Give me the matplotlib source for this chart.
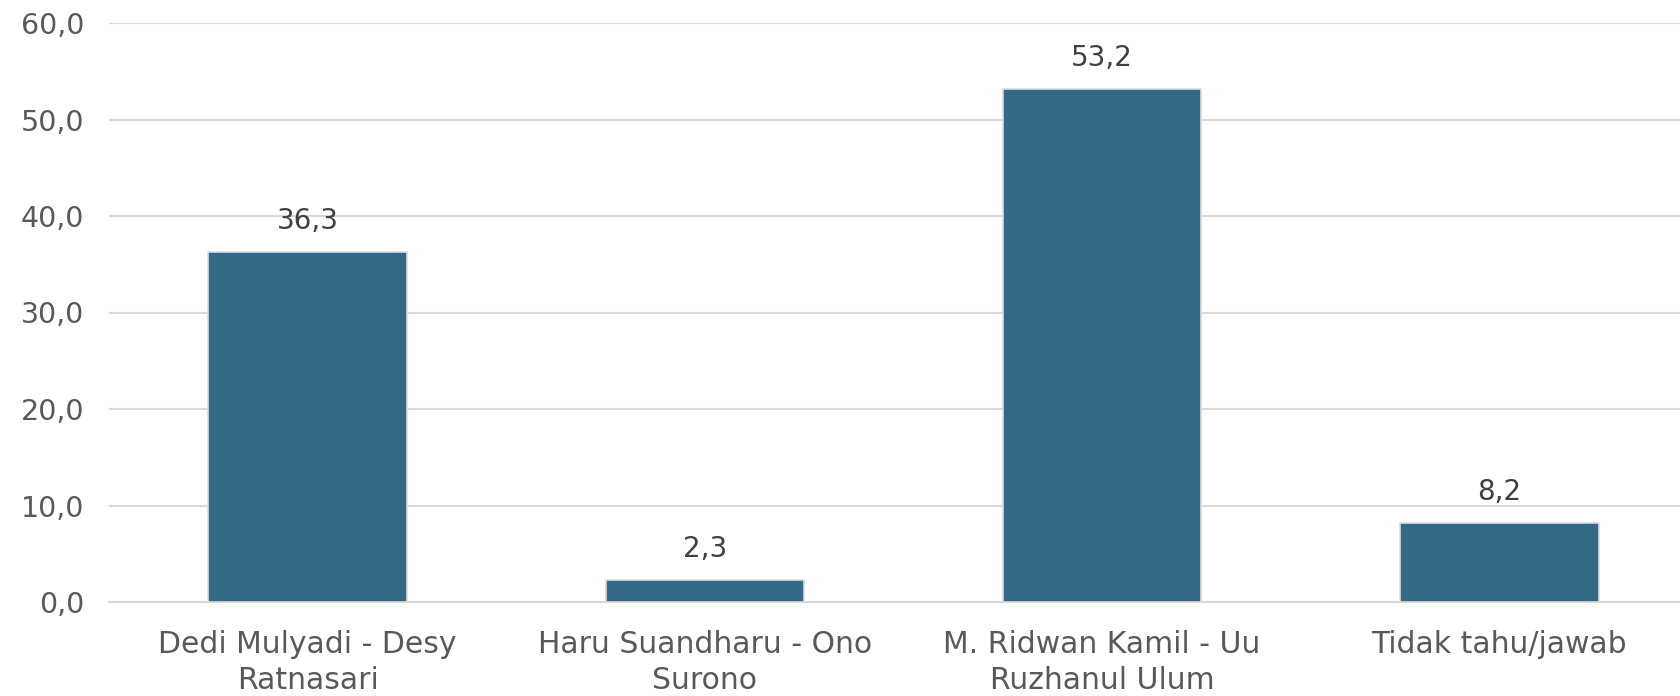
import matplotlib.pyplot as plt
from matplotlib.ticker import FuncFormatter

# data
categories = ["Dedi Mulyadi - Desy\nRatnasari", "Haru Suandharu - Ono\nSurono",
              "M. Ridwan Kamil - Uu\nRuzhanul Ulum", "Tidak tahu/jawab"]
values = [36.3, 2.3, 53.2, 8.2]
yticks = [0, 10, 20, 30, 40, 50, 60]

bar_color = "#336887"
text_color = "#595959"

plt.rcParams['font.family'] = ['DejaVu Sans']

fig = plt.figure(figsize=(16.8, 6.96), dpi=100)
# plot area runs a bit past the right edge, like the original
ax = fig.add_axes([109 / 1680, 94 / 696, 1589 / 1680, 579 / 696])

x = range(len(categories))
bars = ax.bar(x, values, width=0.5, color=bar_color, edgecolor="#dcdcdc",
              linewidth=1.2, zorder=3)

for i, v in enumerate(values):
    ax.annotate(f"{v:.1f}".replace(".", ","), (i, v), xytext=(0, 12),
                textcoords="offset points", ha="center", va="bottom",
                fontsize=20, color="#404040")

ax.set_xlim(-0.5, len(categories) - 0.5)
ax.set_ylim(0, 60)
ax.set_yticks(yticks)
ax.yaxis.set_major_formatter(FuncFormatter(lambda v, p: f"{v:.1f}".replace(".", ",")))
ax.set_xticks(list(x))
ax.set_xticklabels(categories, fontsize=21.5, color=text_color, linespacing=1.3)
ax.tick_params(axis="y", labelsize=20.5, labelcolor=text_color, length=0, pad=18)
ax.tick_params(axis="x", length=0, pad=20)

ax.grid(axis="y", color="#d9d9d9", linewidth=1.5, zorder=0)
for s in ["top", "right", "left"]:
    ax.spines[s].set_visible(False)
ax.spines["bottom"].set_color("#d9d9d9")
ax.spines["bottom"].set_linewidth(1.5)

fig.savefig("out.png", dpi=100)
